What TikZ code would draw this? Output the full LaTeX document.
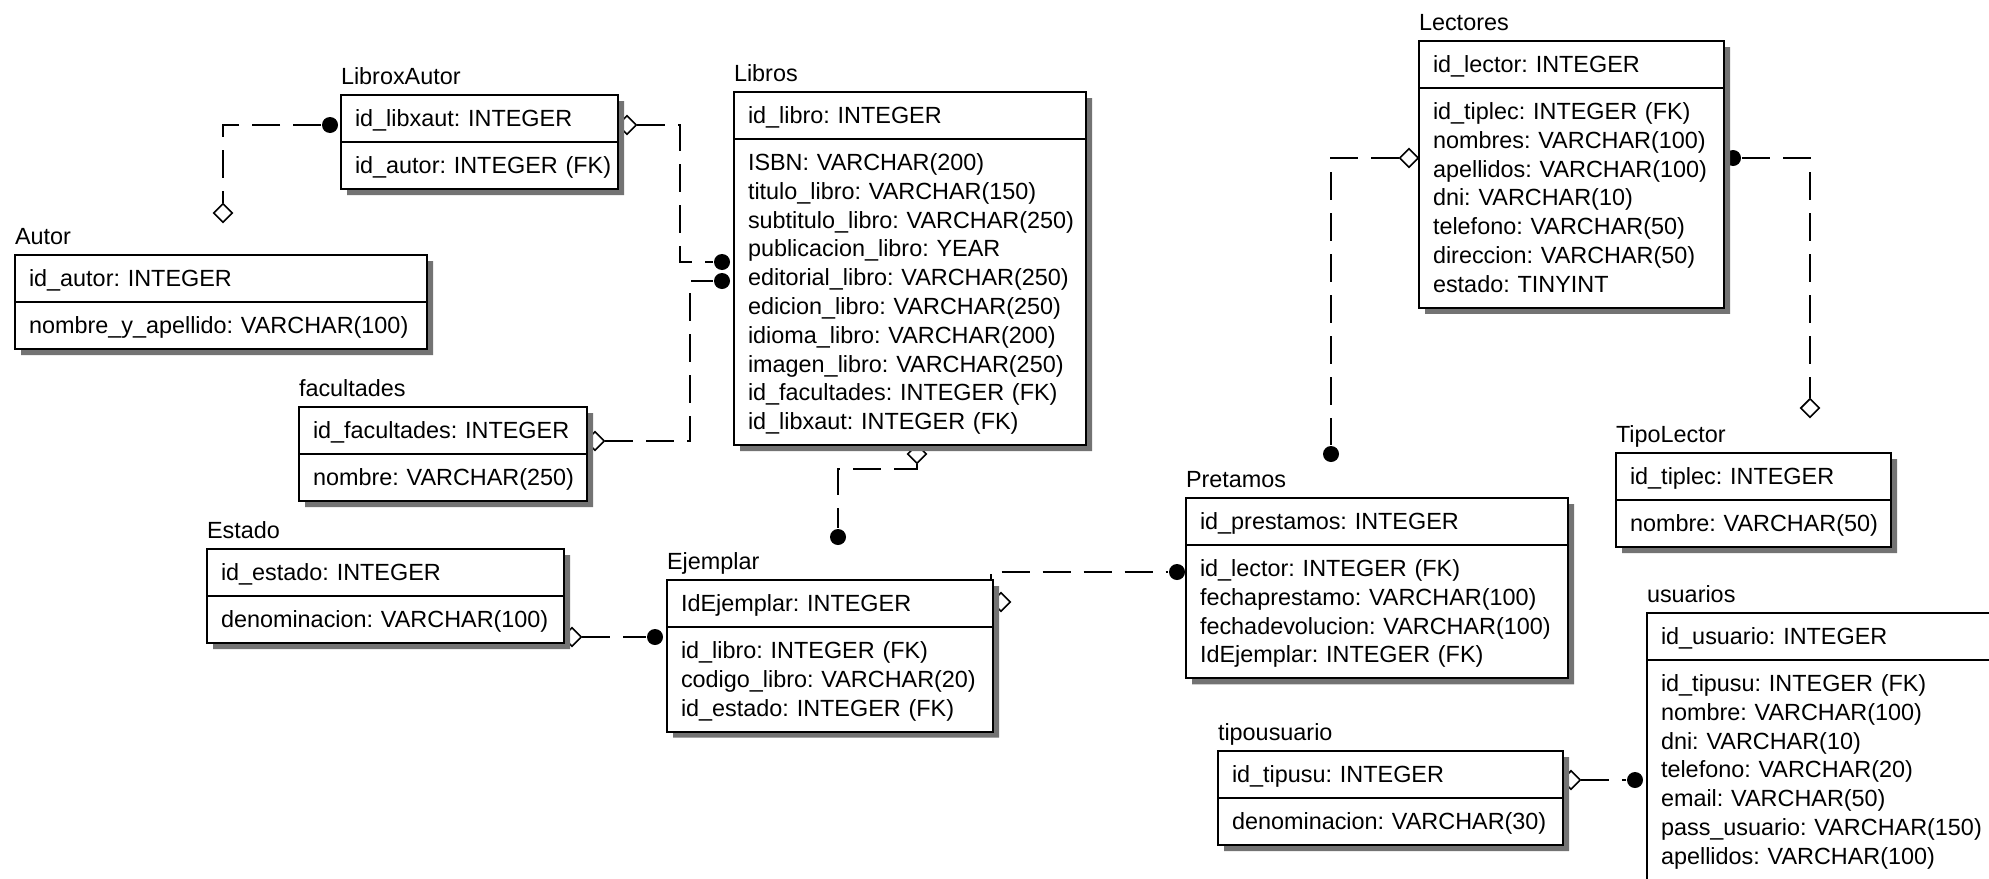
\documentclass[tikz,border=0pt]{standalone}
\usepackage{fontspec}
\setmainfont{Liberation Sans}
\usetikzlibrary{positioning, shapes.multipart, shapes.geometric, shadows}

\hyphenpenalty=10000
\exhyphenpenalty=10000

% struts for the rows of a table
\newcommand{\fila}{\rule[-3.3pt]{0pt}{14.4pt}}
\newcommand{\cabeza}{\rule[-3.5pt]{0pt}{14.6pt}}

\begin{document}
\begin{tikzpicture}[line width = 1pt,
                    x = 0.5pt,
                    y = -0.5pt,
                    tabla/.style = {rectangle split, rectangle split parts = 2, draw, fill = white,
                                    anchor = north west, inner xsep = 7pt, inner ysep = 4pt,
                                    text width = #1, align = left,
                                    font = \fontsize{11.7}{14.4}\selectfont,
                                    drop shadow = {shadow xshift = 3pt, shadow yshift = -3pt,
                                                   fill = black!55, opacity = 1}},
                    titulo/.style = {anchor = base west, inner sep = 0pt,
                                     font = \fontsize{11.7}{14.4}\selectfont},
                    rel/.style = {line width = 0.9pt, dash pattern = on 14pt off 6.5pt},
                    uno/.style = {diamond, draw, fill = white, line width = 0.8pt, aspect = 1,
                                  minimum size = 9.5pt, inner sep = 0pt},
                    muchos/.style = {circle, fill = black, minimum size = 8pt, inner sep = 0pt}]

    \useasboundingbox (0,0) rectangle (1989,878);
    \clip (0,0) rectangle (1989,878);

    % relationship ends
    \node[uno]    (a1) at (223,213)  {};
    \node[muchos] (d1) at (330,125)  {};
    \node[uno]    (a2) at (627,125)  {};
    \node[muchos] (d2) at (722,262)  {};
    \node[uno]    (a3) at (595,441)  {};
    \node[muchos] (d3) at (722,281)  {};
    \node[uno]    (a4) at (917,454)  {};
    \node[muchos] (d4) at (838,537)  {};
    \node[uno]    (a5) at (572,637)  {};
    \node[muchos] (d5) at (655,637)  {};
    \node[uno]    (a6) at (1001,602) {};
    \node[muchos] (d6) at (1177,572) {};
    \node[uno]    (a7) at (1409,158) {};
    \node[muchos] (d7) at (1331,454) {};
    \node[muchos] (d8) at (1733,158) {};
    \node[uno]    (a8) at (1810,408) {};
    \node[uno]    (a9) at (1571,780) {};
    \node[muchos] (d9) at (1635,780) {};

    \foreach \i/\j in {a5/d5,
                       a9/d9}
    {
        \draw[rel] (\i) -- (\j);
    }
    \foreach \i/\j in {d1/a1,
                       a7/d7,
                       d8/a8}
    {
        \draw[rel] (\i) -| (\j);
    }
    \draw[rel] (a2) -| ([xshift = -21pt]d2.center) -- (d2);
    \draw[rel] (a3) -| ([xshift = -16pt]d3.center) -- (d3);
    \draw[rel] (a4) |- ([yshift = 34pt]d4.center) -- (d4);
    \draw[rel] (a6.west) |- (d6);

    % tables
    \node[tabla = 124.5pt] (LXA) at (340,94)
        {\cabeza id\_libxaut:~INTEGER
         \nodepart{two}\fila id\_autor:~INTEGER~(FK)};
    \node[tabla = 162pt] (LIB) at (733,91)
        {\cabeza id\_libro:~INTEGER
         \nodepart{two}\fila ISBN:~VARCHAR(200)\\
         \fila titulo\_libro:~VARCHAR(150)\\
         \fila subtitulo\_libro:~VARCHAR(250)\\
         \fila publicacion\_libro:~YEAR\\
         \fila editorial\_libro:~VARCHAR(250)\\
         \fila edicion\_libro:~VARCHAR(250)\\
         \fila idioma\_libro:~VARCHAR(200)\\
         \fila imagen\_libro:~VARCHAR(250)\\
         \fila id\_facultades:~INTEGER~(FK)\\
         \fila id\_libxaut:~INTEGER~(FK)};
    \node[tabla = 192pt] (AUT) at (14,254)
        {\cabeza id\_autor:~INTEGER
         \nodepart{two}\fila nombre\_y\_apellido:~VARCHAR(100)};
    \node[tabla = 130pt] (FAC) at (298,406)
        {\cabeza id\_facultades:~INTEGER
         \nodepart{two}\fila nombre:~VARCHAR(250)};
    \node[tabla = 164.5pt] (EST) at (206,548)
        {\cabeza id\_estado:~INTEGER
         \nodepart{two}\fila denominacion:~VARCHAR(100)};
    \node[tabla = 149pt] (EJE) at (666,579)
        {\cabeza IdEjemplar:~INTEGER
         \nodepart{two}\fila id\_libro:~INTEGER~(FK)\\
         \fila codigo\_libro:~VARCHAR(20)\\
         \fila id\_estado:~INTEGER~(FK)};
    \node[tabla = 138.5pt] (LEC) at (1418,40)
        {\cabeza id\_lector:~INTEGER
         \nodepart{two}\fila id\_tiplec:~INTEGER~(FK)\\
         \fila nombres:~VARCHAR(100)\\
         \fila apellidos:~VARCHAR(100)\\
         \fila dni:~VARCHAR(10)\\
         \fila telefono:~VARCHAR(50)\\
         \fila direccion:~VARCHAR(50)\\
         \fila estado:~TINYINT};
    \node[tabla = 123.5pt] (TPL) at (1615,452)
        {\cabeza id\_tiplec:~INTEGER
         \nodepart{two}\fila nombre:~VARCHAR(50)};
    \node[tabla = 177pt] (PRE) at (1185,497)
        {\cabeza id\_prestamos:~INTEGER
         \nodepart{two}\fila id\_lector:~INTEGER~(FK)\\
         \fila fechaprestamo:~VARCHAR(100)\\
         \fila fechadevolucion:~VARCHAR(100)\\
         \fila IdEjemplar:~INTEGER~(FK)};
    \node[tabla = 158.5pt] (TPU) at (1217,750)
        {\cabeza id\_tipusu:~INTEGER
         \nodepart{two}\fila denominacion:~VARCHAR(30)};
    \node[tabla = 171pt] (USU) at (1646,612)
        {\cabeza id\_usuario:~INTEGER
         \nodepart{two}\fila id\_tipusu:~INTEGER~(FK)\\
         \fila nombre:~VARCHAR(100)\\
         \fila dni:~VARCHAR(10)\\
         \fila telefono:~VARCHAR(20)\\
         \fila email:~VARCHAR(50)\\
         \fila pass\_usuario:~VARCHAR(150)\\
         \fila apellidos:~VARCHAR(100)};

    % table names
    \foreach \n/\t in {LXA/LibroxAutor,
                       LIB/Libros,
                       AUT/Autor,
                       FAC/facultades,
                       EST/Estado,
                       EJE/Ejemplar,
                       LEC/Lectores,
                       TPL/TipoLector,
                       PRE/Pretamos,
                       TPU/tipousuario,
                       USU/usuarios}
    {
        \node[titulo] (\n-t) at ([yshift = 5pt]\n.north west) {\t};
    }
\end{tikzpicture}
\end{document}
